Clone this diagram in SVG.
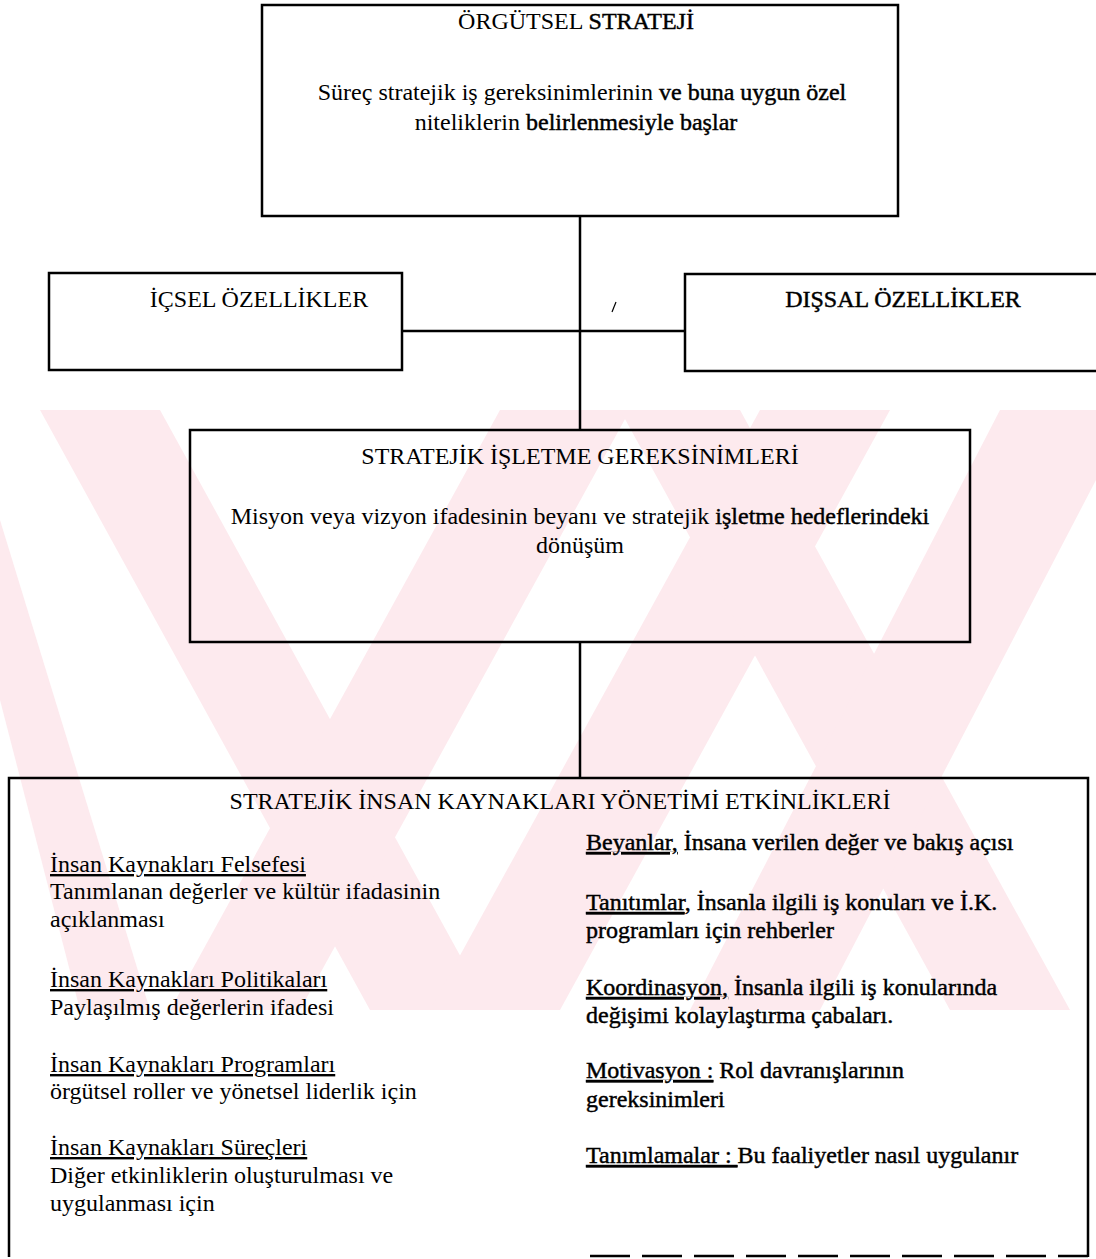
<svg xmlns="http://www.w3.org/2000/svg" width="1096" height="1259" viewBox="0 0 1096 1259">
<style>
.box{fill:none;stroke:#000;stroke-width:2.5}
.ln{stroke:#000;stroke-width:2.5;fill:none}
.t{font-family:"Liberation Serif","Times New Roman",serif;font-size:24px;fill:#000}
.c{text-anchor:middle}
.d{stroke:#000;stroke-width:0.45}
.wm{fill:#fdeaee}
</style>
<rect width="1096" height="1259" fill="#fff"/>
<g id="watermark">
<polygon class="wm" points="40,410 160,410 490,1010 370,1010"/>
<polygon class="wm" points="500,410 630,410 300,1010 170,1010"/>
<polygon class="wm" points="760,410 890,410 560,1010 430,1010"/>
<polygon class="wm" points="620,410 740,410 1070,1010 950,1010"/>
<polygon class="wm" points="1000,410 1096,410 1096,480 820,1010 690,1010"/>
<polygon class="wm" points="0,520 0,700 80,1010 150,1010"/>
</g>
<g id="connectors">
<line class="ln" x1="580" y1="216" x2="580" y2="430"/>
<line class="ln" x1="402" y1="331" x2="685" y2="331"/>
<line class="ln" x1="580" y1="642" x2="580" y2="778"/>
<line x1="616" y1="302" x2="612" y2="312" stroke="#000" stroke-width="1.2"/>
</g>
<g id="orgutsel">
<rect class="box" x="262" y="5" width="636" height="211" fill="#fff"/>
<text class="t c" x="576" y="29">ÖRGÜTSEL <tspan class="d">STRATEJİ</tspan></text>
<text class="t c" x="582" y="100">Süreç stratejik iş gereksinimlerinin <tspan class="d">ve buna uygun özel</tspan></text>
<text class="t c" x="576" y="130">niteliklerin <tspan class="d">belirlenmesiyle başlar</tspan></text>
</g>
<g id="icsel">
<rect class="box" x="49" y="273" width="353" height="97" fill="#fff"/>
<text class="t c" x="259" y="307">İÇSEL ÖZELLİKLER</text>
</g>
<g id="dissal">
<rect class="box" x="685" y="274" width="420" height="97" fill="#fff"/>
<text class="t c d" x="903" y="307">DIŞSAL ÖZELLİKLER</text>
</g>
<g id="isletme">
<rect class="box" x="190" y="430" width="780" height="212"/>
<text class="t c" x="580" y="464">STRATEJİK İŞLETME GEREKSİNİMLERİ</text>
<text class="t c" x="580" y="524">Misyon veya vizyon ifadesinin beyanı ve stratejik <tspan class="d">işletme hedeflerindeki</tspan></text>
<text class="t c" x="580" y="553">dönüşüm</text>
</g>
<g id="ikyonetimi">
<path class="box" d="M9,1257 V778 H1088 V1257"/>
<line class="ln" x1="590" y1="1256" x2="1088" y2="1256" stroke-dasharray="40,12"/>
<text class="t c" x="560" y="809">STRATEJİK İNSAN KAYNAKLARI YÖNETİMİ ETKİNLİKLERİ</text>
<text class="t" x="50" y="872" text-decoration="underline">İnsan Kaynakları Felsefesi</text>
<text class="t" x="50" y="899">Tanımlanan değerler ve kültür ifadasinin</text>
<text class="t" x="50" y="927">açıklanması</text>
<text class="t" x="50" y="987" text-decoration="underline">İnsan Kaynakları Politikaları</text>
<text class="t" x="50" y="1015">Paylaşılmış değerlerin ifadesi</text>
<text class="t" x="50" y="1072" text-decoration="underline">İnsan Kaynakları Programları</text>
<text class="t" x="50" y="1099">örgütsel roller ve yönetsel liderlik için</text>
<text class="t" x="50" y="1155" text-decoration="underline">İnsan Kaynakları Süreçleri</text>
<text class="t" x="50" y="1183">Diğer etkinliklerin oluşturulması ve</text>
<text class="t" x="50" y="1211">uygulanması için</text>
<text class="t d" x="586" y="850"><tspan text-decoration="underline">Beyanlar,</tspan> İnsana verilen değer ve bakış açısı</text>
<text class="t d" x="586" y="910"><tspan text-decoration="underline">Tanıtımlar</tspan>, İnsanla ilgili iş konuları ve İ.K.</text>
<text class="t d" x="586" y="938">programları için rehberler</text>
<text class="t d" x="586" y="995"><tspan text-decoration="underline">Koordinasyon,</tspan> İnsanla ilgili iş konularında</text>
<text class="t d" x="586" y="1023">değişimi kolaylaştırma çabaları.</text>
<text class="t d" x="586" y="1078"><tspan text-decoration="underline">Motivasyon :</tspan> Rol davranışlarının</text>
<text class="t d" x="586" y="1107">gereksinimleri</text>
<text class="t d" x="586" y="1163"><tspan text-decoration="underline">Tanımlamalar : </tspan>Bu faaliyetler nasıl uygulanır</text>
</g>
</svg>
